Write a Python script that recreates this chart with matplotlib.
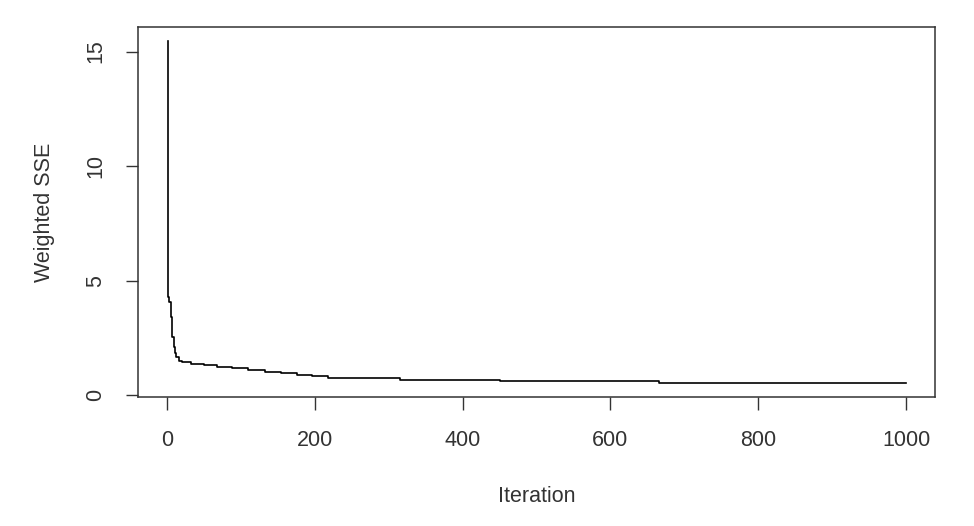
import matplotlib
matplotlib.use("Agg")
import matplotlib.pyplot as plt

# breakpoints of the step curve (iteration, weighted SSE)
iterations = [1, 2, 3, 5, 7, 9, 11, 13, 17, 21, 32, 50, 68, 88, 110, 133,
              155, 176, 196, 218, 252, 315, 450, 666, 1000]
sse = [15.47, 4.29, 4.07, 3.42, 2.53, 2.11, 1.83, 1.65, 1.48, 1.43, 1.35, 1.30,
       1.24, 1.18, 1.09, 1.02, 0.95, 0.87, 0.82, 0.77, 0.73, 0.67, 0.61, 0.54, 0.54]

x_ticks = [0, 200, 400, 600, 800, 1000]
y_ticks = [0, 5, 10, 15]

plt.rcParams["font.family"] = ["Liberation Sans", "DejaVu Sans"]

fig = plt.figure(figsize=(9.74, 5.26), dpi=100)
ax = fig.add_axes([0.1417, 0.2452, 0.8183, 0.7035])

ax.step(iterations, sse, where="post", color="black", lw=1.2)

ax.set_xlim(-39, 1039)
ax.set_ylim(-0.08, 16.07)
ax.set_xticks(x_ticks)
ax.set_yticks(y_ticks)
ax.set_yticklabels([str(v) for v in y_ticks], rotation=90, va="center")

ax.tick_params(length=9, width=1, color="#333333", labelsize=15.5,
               labelcolor="#333333")
ax.tick_params(axis="x", pad=15)
ax.tick_params(axis="y", pad=14)
for s in ax.spines.values():
    s.set_color("#333333")
    s.set_linewidth(1.1)

ax.set_xlabel("Iteration", fontsize=15.5, color="#333333", labelpad=25)
ax.set_ylabel("Weighted SSE", fontsize=15.5, color="#333333", labelpad=22)

fig.savefig("out.png", dpi=100)
